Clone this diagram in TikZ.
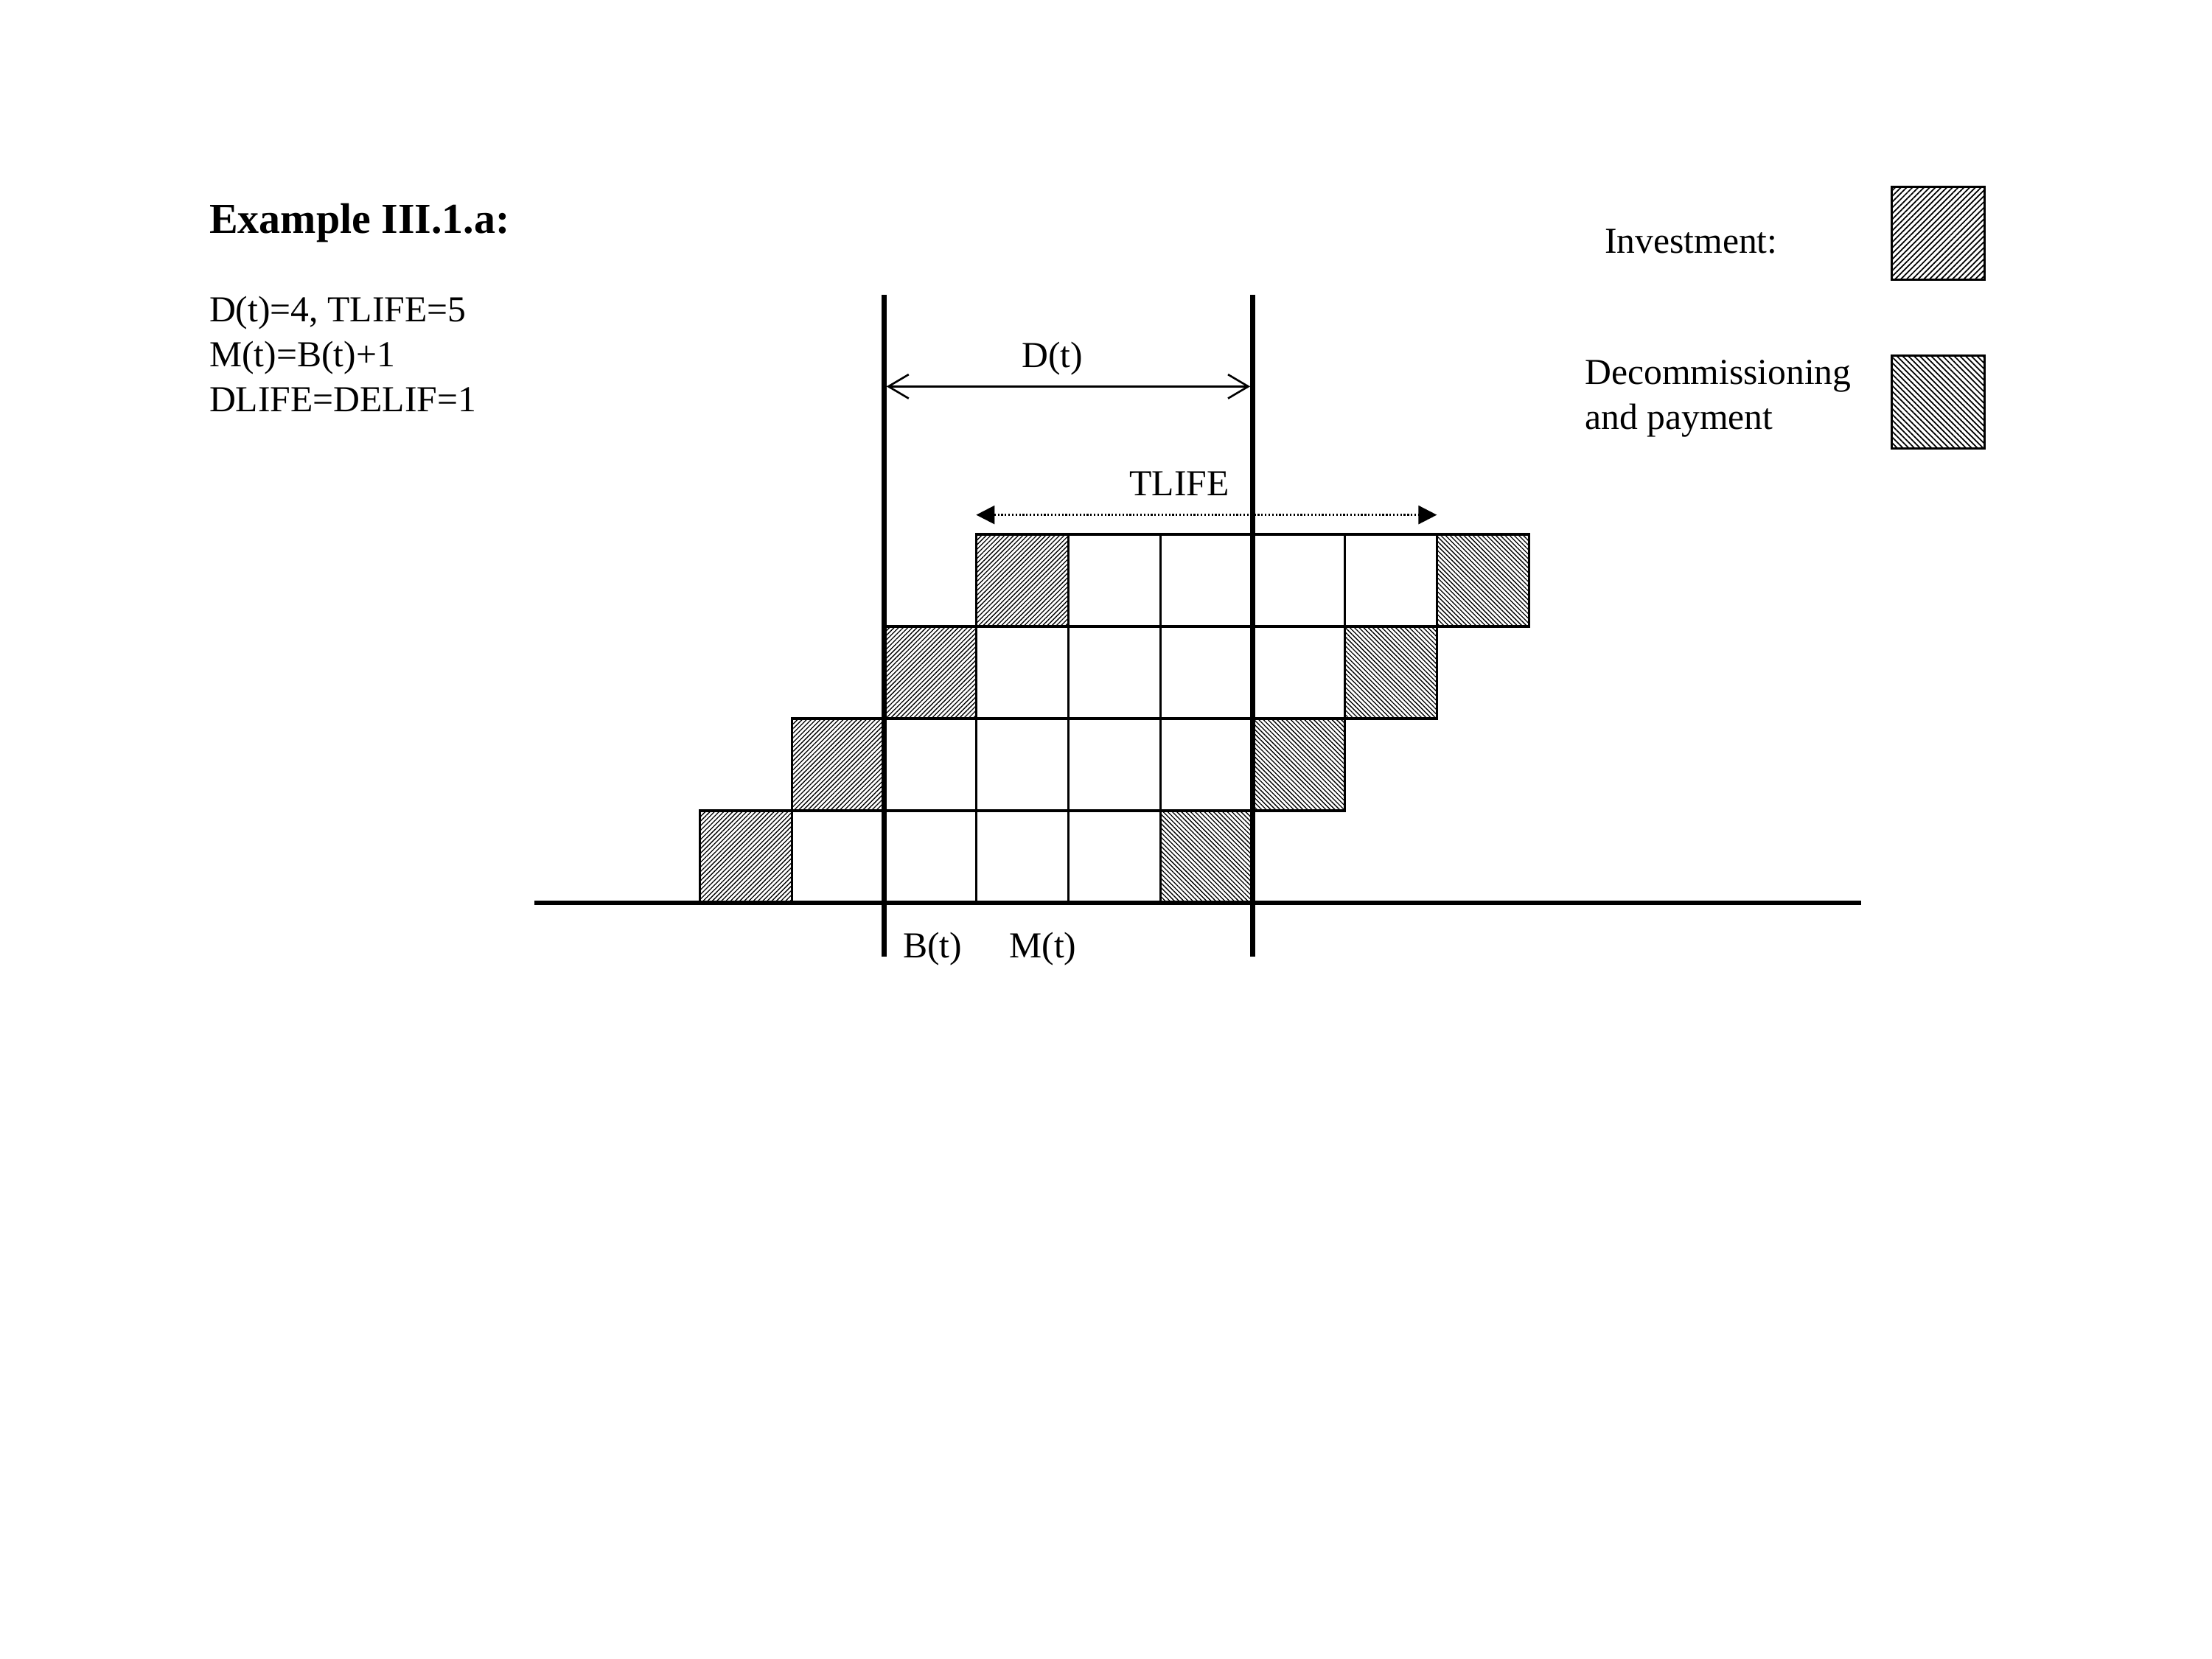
\documentclass[tikz,border=0pt]{standalone}
\usepackage{tikz}
\usetikzlibrary{arrows.meta,patterns.meta}
\usepackage{fontspec}
\setmainfont{Liberation Serif}
\tikzset{
    every node/.append style={font=\fontsize{11.3}{13.9}\selectfont},
    cell/.style={rectangle,draw=black,line width=0.7pt,minimum size=1cm,inner sep=0pt},
    invest/.style={cell,pattern={Lines[angle=45,distance=1pt,line width=0.3pt]}},
    decom/.style={cell,pattern={Lines[angle=-45,distance=1pt,line width=0.3pt]}},
    keyinv/.style={cell,minimum size=1.01cm,pattern={Lines[angle=45,distance=1.25pt,line width=0.4pt]}},
    keydec/.style={cell,minimum size=1.01cm,pattern={Lines[angle=-45,distance=1.25pt,line width=0.4pt]}},
    thickline/.style={line width=1.5pt},
    darr/.style={{Straight Barb[length=2.2mm,width=2.6mm]}-{Straight Barb[length=2.2mm,width=2.6mm]},line width=0.6pt,shorten <=0.75pt,shorten >=0.75pt},
    tarr/.style={{Triangle[length=2mm,width=2mm]}-{Triangle[length=2mm,width=2mm]},line width=0.6pt,dash pattern=on 0.5pt off 0.6pt},
    txt/.style={inner sep=0pt,align=left}
}
\begin{document}
\begin{tikzpicture}
    \useasboundingbox (0,0) rectangle (24.008,-18.008);
    % header and parameters
    \node[txt,anchor=base west,font=\fontsize{13.2}{15}\selectfont\bfseries] (title) at (2.266,-2.53) {Example III.1.a:};
    \node[txt,anchor=west] (params) at (2.266,-3.843) {D(t)=4, TLIFE=5\\M(t)=B(t)+1\\DLIFE=DELIF=1};
    % legend
    \node[txt,anchor=west] (invtxt) at (17.41,-2.618) {Investment:};
    \node[keyinv] (invkey) at (21.035,-2.534) {};
    \node[txt,anchor=west] (dectxt) at (17.195,-4.33) {Decommissioning\\and payment};
    \node[keydec] (deckey) at (21.035,-4.365) {};
    % capacity blocks, one row per vintage
    \foreach \r in {0,...,3}{
        \node[invest] (inv\r) at (8.095+\r,-9.3+\r) {};
        \foreach \k in {1,...,4}
            \node[cell] (c\r\k) at (8.095+\r+\k,-9.3+\r) {};
        \node[decom] (dec\r) at (13.095+\r,-9.3+\r) {};
    }
    % time axis and period markers
    \coordinate (axl) at (5.803,-9.8);
    \coordinate (axr) at (20.196,-9.8);
    \coordinate (btop) at (9.595,-3.2);
    \coordinate (bbot) at (9.595,-10.38);
    \coordinate (etop) at (13.595,-3.2);
    \coordinate (ebot) at (13.595,-10.38);
    \draw[thickline] (axl) -- (axr);
    \draw[thickline] (btop) -- (bbot);
    \draw[thickline] (etop) -- (ebot);
    \coordinate (dl) at (9.595,-4.195);
    \coordinate (dr) at (13.595,-4.195);
    \draw[darr] (dl) -- (dr);
    \node (dlbl) at (11.42,-3.89) {D(t)};
    \coordinate (tl) at (10.595,-5.589);
    \coordinate (tr) at (15.595,-5.589);
    \draw[tarr] (tl) -- (tr);
    \node (tlbl) at (12.80,-5.25) {TLIFE};
    \node (blbl) at (10.12,-10.3) {B(t)};
    \node (mlbl) at (11.32,-10.3) {M(t)};
\end{tikzpicture}
\end{document}
